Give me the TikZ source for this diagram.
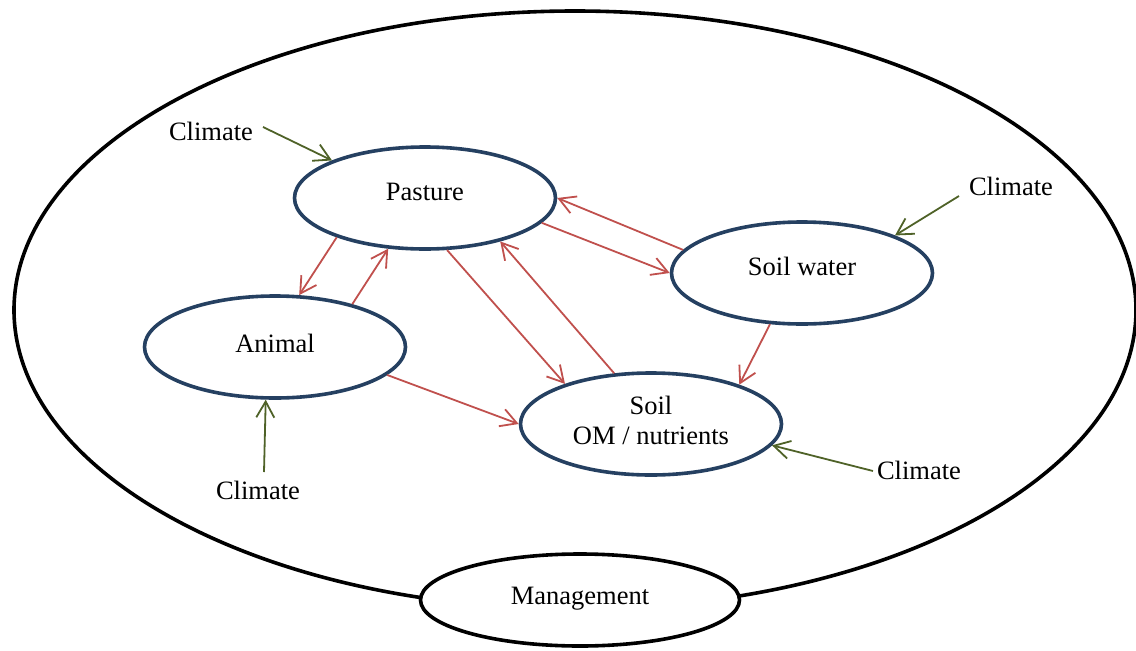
\documentclass[tikz,border=0pt]{standalone}
\usepackage{fontspec}
\setmainfont{Liberation Serif}
\usetikzlibrary{arrows.meta,shapes.geometric}
\definecolor{ellblue}{HTML}{254061}
\definecolor{arrred}{HTML}{C0504D}
\definecolor{arrgreen}{HTML}{4F6228}
\begin{document}
\begin{tikzpicture}[x=1pt,y=-1pt,
  every node/.style={font=\fontsize{26.5}{30}\selectfont},
  ell/.style={draw=ellblue, line width=3.6pt, ellipse, fill=white, inner sep=0pt,
    minimum width=261pt, minimum height=102pt},
  lbl/.style={inner sep=0pt, align=center, font=\fontsize{26.5}{30}\selectfont},
  mgmt/.style={draw=black, line width=3.6pt, ellipse, fill=white, inner sep=0pt,
    minimum width=319pt, minimum height=92pt},
  txt/.style={inner sep=0pt},
  redarrow/.style={draw=arrred, line width=1.8pt,
    -{Straight Barb[length=16pt,width=18pt,line width=1.8pt]}},
  greenarrow/.style={draw=arrgreen, line width=1.8pt,
    -{Straight Barb[length=16pt,width=18pt,line width=1.8pt]}}
]
\useasboundingbox (0,0) rectangle (1136,651);
% outer ellipse
\draw[line width=3.6pt] (575,310) ellipse [x radius=561, y radius=299];

% nodes
\node[ell] (pasture) at (425,198) {};
\node[lbl] (pastureT) at (425,192) {Pasture};
\node[ell] (animal) at (275,347) {};
\node[lbl] (animalT) at (275,343) {Animal};
\node[ell] (soilwater) at (802,273) {};
\node[lbl] (soilwaterT) at (802,266) {Soil water};
\node[ell] (soilom) at (651,424) {};
\node[lbl] (soilomT) at (651,420) {Soil\\OM / nutrients};
\node[mgmt] (mgmt) at (580,600) {};
\node[lbl] (mgmtT) at (580,599) {Management};

% climate labels
\node[txt] (c1) at (211,131) {Climate};
\node[txt] (c2) at (1011,186) {Climate};
\node[txt] (c3) at (258,490) {Climate};
\node[txt] (c4) at (919,470) {Climate};
\coordinate (c1s) at (263,127);
\coordinate (c2s) at (959,196);
\coordinate (c3s) at (264,472);
\coordinate (c4s) at (873,471);

% red arrows
\draw[redarrow] (pasture.204.7) -- (animal.65.7);
\draw[redarrow] (animal.29.2) -- (pasture.-126.2);
\draw[redarrow] (pasture.-67.5) -- (soilom.155.2);
\draw[redarrow] (soilom.126.2) -- (pasture.-30.2);
\draw[redarrow] (pasture.-12.2) -- (soilwater.180);
\draw[redarrow] (soilwater.169.1) -- (pasture.0);
\draw[redarrow] (soilwater.-122.2) -- (soilom.24.1);
\draw[redarrow] (animal.-14.2) -- (soilom.180);

% green arrows
\draw[greenarrow] (c1s) -- (pasture.158.2);
\draw[greenarrow] (c2s) -- (soilwater.22);
\draw[greenarrow] (c3s) -- (animal.-100.7);
\draw[greenarrow] (c4s) -- (soilom.-10.8);
\end{tikzpicture}
\end{document}
